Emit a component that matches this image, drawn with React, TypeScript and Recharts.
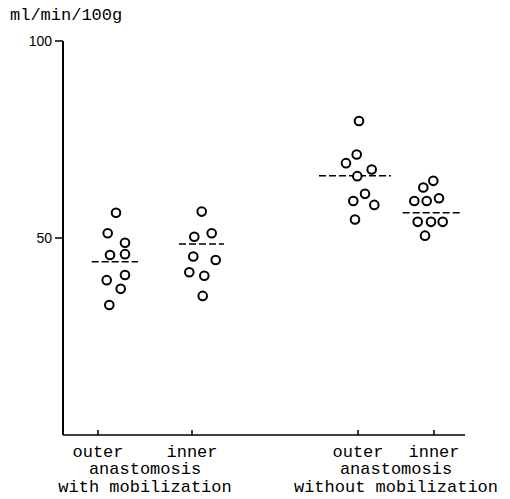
import React from 'react';
import { ScatterChart, Scatter, XAxis, YAxis, ReferenceLine, Label } from 'recharts';

// horizontal positions of the four columns (axis units), and their labels
const positions = [35, 129, 295, 371];
const siteLabels = ['outer', 'inner', 'outer', 'inner'];
const groupCenters = [82, 333];
const groupLabels = [
  ['anastomosis', 'with mobilization'],
  ['anastomosis', 'without mobilization'],
];
const yTicks = [50, 100];

// blood flow, ml/min/100g
const outerWithX = [53, 44.7, 62, 47, 62, 62, 43.7, 57.7, 46.3];
const outerWithY = [56.4, 51.2, 48.8, 45.7, 45.9, 40.6, 39.3, 37.1, 33.0];
const innerWithX = [138.7, 131.3, 148.7, 130.3, 152.7, 126.3, 141.3, 139.7];
const innerWithY = [56.7, 50.3, 51.2, 45.3, 44.4, 41.3, 40.4, 35.3];
const outerWithoutX = [296, 293.7, 283, 308.7, 294.3, 302, 290.3, 311.3, 292];
const outerWithoutY = [79.7, 71.2, 69.0, 67.4, 65.7, 61.2, 59.4, 58.4, 54.7];
const innerWithoutX = [370.3, 360.3, 351.3, 363.7, 376, 354.7, 368, 379.7, 362];
const innerWithoutY = [64.5, 62.8, 59.4, 59.4, 60.1, 54.1, 54.1, 54.1, 50.6];

// mean values (dashed lines) and how far each dashed line runs
const means = [44.0, 48.5, 65.8, 56.4];
const meanFrom = [28.7, 116, 256, 339.7];
const meanTo = [75, 161, 328, 397];

const toPoints = (xs: number[], ys: number[]) => xs.map((x, i) => ({ x, y: ys[i] }));

const series = [
  toPoints(outerWithX, outerWithY),
  toPoints(innerWithX, innerWithY),
  toPoints(outerWithoutX, outerWithoutY),
  toPoints(innerWithoutX, innerWithoutY),
];

const allTicks = [...positions, ...groupCenters].sort((a, b) => a - b);

const mono = '"Liberation Mono", "Courier New", monospace';

const Ring = (props: any) => {
  const { cx, cy } = props;
  return <circle cx={cx} cy={cy} r={4.3} fill="#fff" stroke="#000" strokeWidth={2} />;
};

const XTick = (props: any) => {
  const { x, y, payload } = props;
  const v = payload?.value;
  const si = positions.indexOf(v);
  if (si >= 0) {
    return (
      <g>
        <line x1={x} y1={y} x2={x} y2={y - 5} stroke="#000" strokeWidth={1.5} />
        <text x={x} y={y + 22} textAnchor="middle" fontFamily={mono} fontSize={17} fill="#000">
          {siteLabels[si]}
        </text>
      </g>
    );
  }
  const gi = groupCenters.indexOf(v);
  const lines = gi >= 0 ? groupLabels[gi] : [];
  return (
    <g>
      {lines.map((t, i) => (
        <text key={i} x={x} y={y + 39 + i * 18} textAnchor="middle" fontFamily={mono} fontSize={17} fill="#000">
          {t}
        </text>
      ))}
    </g>
  );
};

const renderUnit = (props: any) => {
  const vb = props.viewBox || { x: 0, y: 0 };
  return (
    <text x={vb.x + 10} y={vb.y - 21} fontFamily={mono} fontSize={17} fill="#000">
      ml/min/100g
    </text>
  );
};

export default function App() {
  return (
    <div style={{ position: 'absolute', left: 0, top: 0, background: '#fff' }}>
      <ScatterChart width={510} height={499} margin={{ top: 41, right: 45, left: 0, bottom: 0 }}>
        <XAxis
          type="number"
          dataKey="x"
          domain={[0, 402]}
          ticks={allTicks}
          tick={<XTick />}
          tickLine={false}
          tickSize={0}
          tickMargin={0}
          height={64}
          axisLine={{ stroke: '#000', strokeWidth: 1.6 }}
          interval={0}
        />
        <YAxis
          type="number"
          dataKey="y"
          domain={[0, 100]}
          ticks={yTicks}
          width={63}
          tickSize={8}
          tickMargin={3}
          tickLine={{ stroke: '#000', strokeWidth: 1.5 }}
          axisLine={{ stroke: '#000', strokeWidth: 2 }}
          tick={{ fill: '#000', fontSize: 14, fontFamily: '"Liberation Sans", Arial, sans-serif' }}
        >
          <Label position="top" content={renderUnit} />
        </YAxis>
        {means.map((m, i) => (
          <ReferenceLine
            key={i}
            segment={[
              { x: meanFrom[i], y: m },
              { x: meanTo[i], y: m },
            ]}
            stroke="#000"
            strokeWidth={1.5}
            strokeDasharray="7 3"
            ifOverflow="visible"
          />
        ))}
        {series.map((d, i) => (
          <Scatter key={i} data={d} shape={<Ring />} isAnimationActive={false} />
        ))}
      </ScatterChart>
    </div>
  );
}
